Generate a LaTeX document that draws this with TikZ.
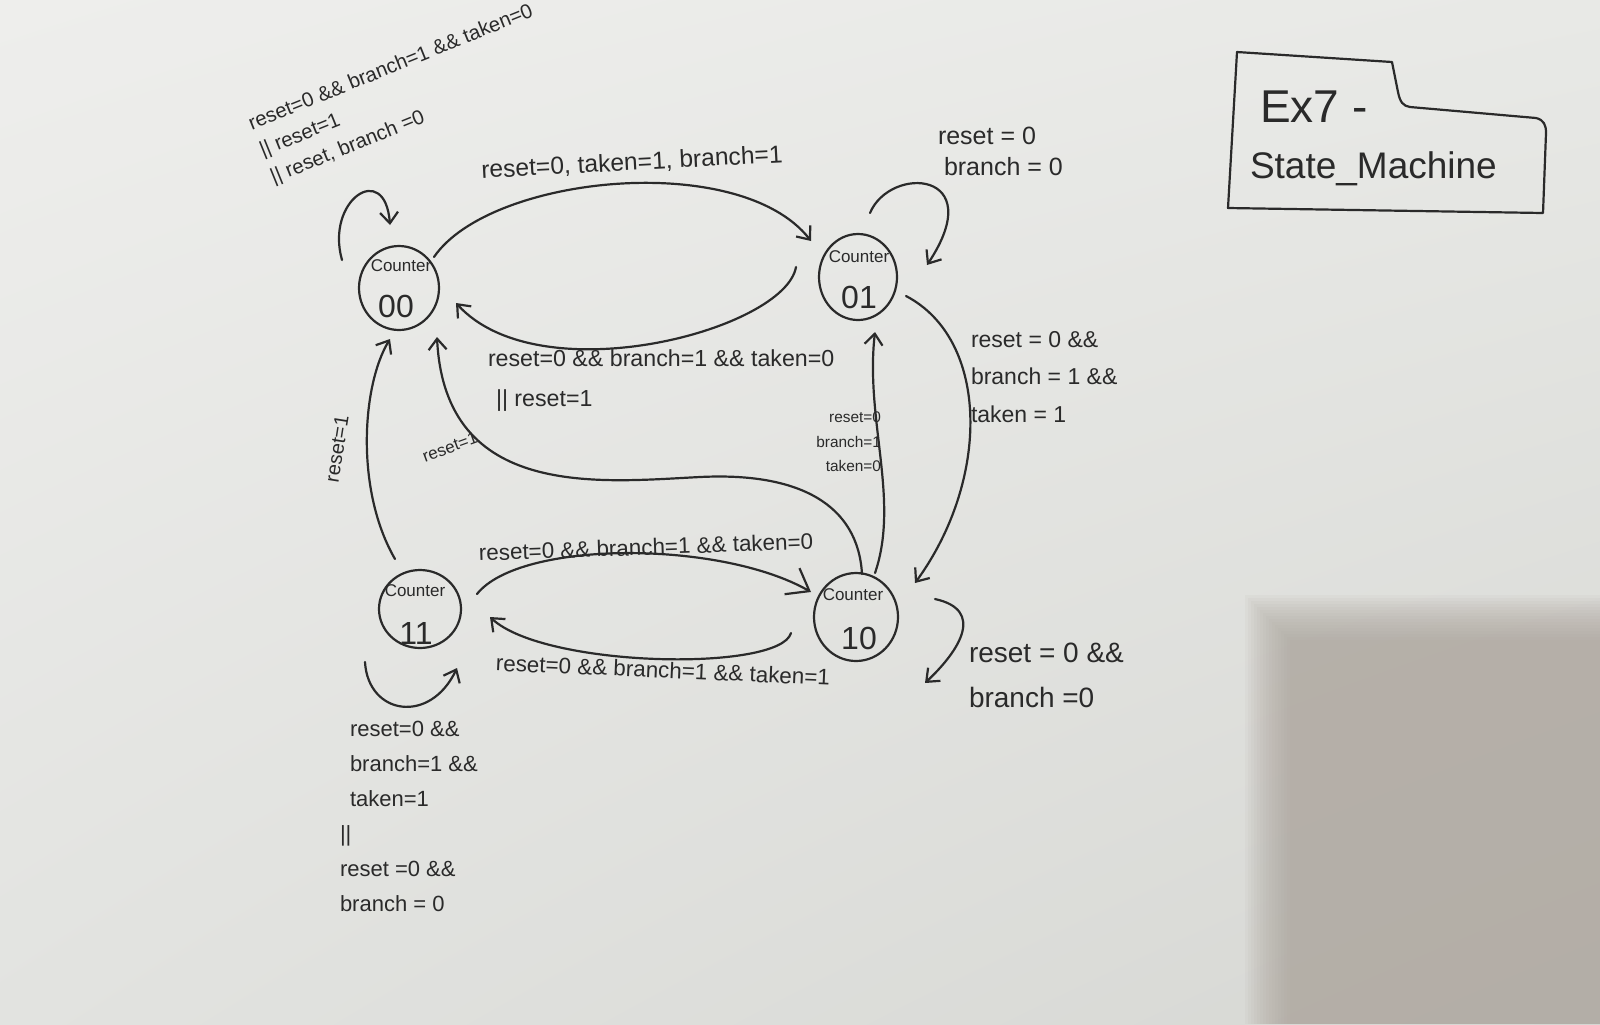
\documentclass[tikz,border=0pt]{standalone}
\usepackage{fontspec}
\setmainfont{Liberation Sans}
\usetikzlibrary{arrows.meta,shapes.geometric,calc,shadings}
\definecolor{inkc}{RGB}{42,42,42}
\definecolor{bgA}{RGB}{238,238,236}
\definecolor{bgB}{RGB}{232,233,230}
\definecolor{bgC}{RGB}{226,227,224}
\definecolor{bgD}{RGB}{214,215,211}
\definecolor{shadowc}{RGB}{172,165,157}
\newcommand{\myfs}[2]{\fontsize{#1}{#2}\selectfont}
\tikzset{
  ink/.style={draw=inkc, line width=1.1pt, line cap=round, line join=round},
  arr/.style={ink, -{Straight Barb[length=5.5pt,width=9pt,line width=1.1pt]}},
  bigarr/.style={ink, -{Straight Barb[length=10pt,width=15pt,line width=1.1pt]}},
  stnode/.style={ellipse, draw=inkc, line width=1.1pt, inner sep=0pt},
  lbl/.style={text=inkc, inner sep=0pt, outer sep=0pt},
  ctr/.style={lbl, font=\myfs{8.5}{10}},
  dig/.style={lbl, font=\myfs{16}{18}},
}
\begin{document}
\begin{tikzpicture}[x=0.5pt,y=-0.5pt]
\useasboundingbox (0,0) rectangle (1600,1024);
% paper
\shade[upper left=bgA, upper right=bgB, lower left=bgC, lower right=bgD] (0,0) rectangle (1600,1024);
\foreach \i in {0,...,15}{
  \fill[shadowc, opacity=0.08] (1245+3*\i,595+3*\i) rectangle (1600,1024);
}

% states
\node[stnode, minimum width=40pt, minimum height=42pt] (n00) at (399,288) {};
\node[stnode, minimum width=39pt, minimum height=43pt] (n01) at (858,277) {};
\node[stnode, minimum width=41pt, minimum height=39pt] (n11) at (420,609) {};
\node[stnode, minimum width=42pt, minimum height=44pt] (n10) at (856,617) {};

\node[ctr] (c00) at ($(n00)+(2,-22)$) {Counter};
\node[dig] (d00) at ($(n00)+(-3,18)$) {00};
\node[ctr] (c01) at ($(n01)+(1,-20)$) {Counter};
\node[dig] (d01) at ($(n01)+(1,20)$) {01};
\node[ctr] (c11) at ($(n11)+(-5,-18)$) {Counter};
\node[dig] (d11) at ($(n11)+(-4,24)$) {11};
\node[ctr] (c10) at ($(n10)+(-3,-22)$) {Counter};
\node[dig] (d10) at ($(n10)+(3,21)$) {10};

% connectors
% 00 self loop
\draw[arr] ($(n00)+(-57,-28)$) .. controls (325,200) and (385,160) .. ($(n00)+(-9,-63)$);
% 00 -> 01
\draw[arr] ($(n00)+(35,-31)$) .. controls (490,175) and (740,150) .. ($(n01)+(-47,-36)$);
% 01 -> 00
\draw[arr] ($(n01)+(-62,-10)$) .. controls (785,330) and (540,395) .. ($(n00)+(57,15)$);
% 01 self loop
\draw[arr] ($(n01)+(12,-64)$) .. controls (890,165) and (990,170) .. ($(n01)+(69,-12)$);
% 01 -> 10
\draw[arr] ($(n01)+(48,19)$) .. controls (990,340) and (990,480) .. ($(n10)+(59,-34)$);
% 10 -> 01
\draw[arr] ($(n10)+(19,-44)$) .. controls (900,500) and (865,420) .. ($(n01)+(17,55)$);
% 10 -> 00 (reset=1)
\draw[arr] ($(n10)+(6,-43)$) .. controls (858,505) and (800,472) .. (700,477)
           .. controls (600,482) and (445,500) .. ($(n00)+(38,49)$);
% 11 -> 00
\draw[arr] ($(n11)+(-25,-50)$) .. controls (355,490) and (362,385) .. ($(n00)+(-9,51)$);
% 11 -> 10
\draw[bigarr] ($(n11)+(57,-15)$) .. controls (520,540) and (720,540) .. ($(n10)+(-45,-25)$);
% 10 -> 11
\draw[arr] ($(n10)+(-65,16)$) .. controls (780,672) and (545,668) .. ($(n11)+(70,8)$);
% 11 self loop
\draw[arr] ($(n11)+(-55,53)$) .. controls (368,715) and (430,725) .. ($(n11)+(37,59)$);
% 10 self loop
\draw[arr] ($(n10)+(79,-18)$) .. controls (985,610) and (960,650) .. ($(n10)+(69,66)$);

% labels
\node[lbl, rotate=22, align=left, font=\myfs{10.2}{14.5}] (t1) at (402,95)
  {reset=0 \&\& branch=1 \&\& taken=0\\|| reset=1\\|| reset, branch =0};
\node[lbl, rotate=3, font=\myfs{12.3}{14}] (t2) at (632,163) {reset=0, taken=1, branch=1};
\node[lbl, anchor=west, align=left, font=\myfs{12.5}{15.5}] (t3) at (938,151)
  {reset = 0\\\hspace{3pt}branch = 0};
\node[lbl, anchor=west, align=left, font=\myfs{11.5}{18.75}] (t4) at (971,377)
  {reset = 0 \&\&\\branch = 1 \&\&\\taken = 1};
\node[lbl, anchor=west, align=left, font=\myfs{11.6}{20}] (t5) at (488,381)
  {reset=0 \&\& branch=1 \&\& taken=0\\\hspace{4pt}|| reset=1};
\node[lbl, anchor=east, align=right, font=\myfs{7.7}{12.25}] (t6) at (881,442)
  {reset=0\\branch=1\\taken=0};
\node[lbl, rotate=20, font=\myfs{8.5}{10}] (t7) at (450,447) {reset=1};
\node[lbl, rotate=81, font=\myfs{10}{12}] (t8) at (337,449) {reset=1};
\node[lbl, rotate=2, font=\myfs{11.2}{13}] (t9) at (646,547) {reset=0 \&\& branch=1 \&\& taken=0};
\node[lbl, rotate=-2.5, font=\myfs{11.2}{13}] (t10) at (663,670) {reset=0 \&\& branch=1 \&\& taken=1};
\node[lbl, anchor=west, align=left, font=\myfs{11}{17.5}] (t11) at (340,816)
  {\hspace{5pt}reset=0 \&\&\\\hspace{5pt}branch=1 \&\&\\\hspace{5pt}taken=1\\||\\reset =0 \&\&\\branch = 0};
\node[lbl, anchor=west, align=left, font=\myfs{14}{22.5}] (t12) at (969,675)
  {reset = 0 \&\&\\branch =0};

% title box
\draw[ink] (1237,52) -- (1392,62) -- (1398,92) .. controls (1400,102) and (1403,106) .. (1410,107)
  -- (1536,118) .. controls (1544,120) and (1546,125) .. (1546,133) -- (1543,213) -- (1228,208) -- cycle;
\node[lbl, anchor=west, font=\myfs{23}{26}] (ex7) at (1260,107) {Ex7 -};
\node[lbl, anchor=west, font=\myfs{18.5}{22}] (stm) at (1250,169) {State\_Machine};
\end{tikzpicture}
\end{document}
